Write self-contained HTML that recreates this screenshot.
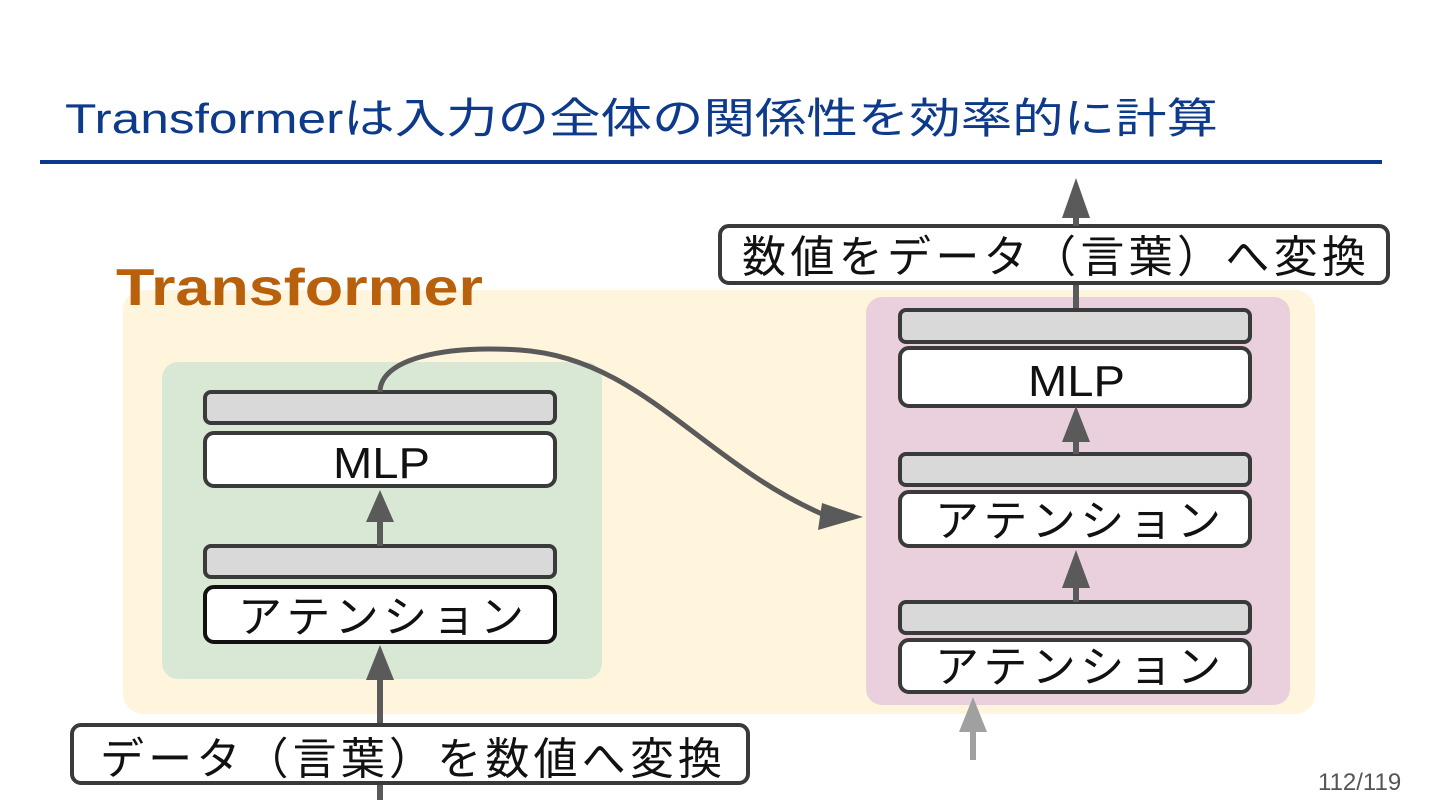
<!DOCTYPE html>
<html><head><meta charset="utf-8"><style>
body{margin:0;background:#fff;}
svg{display:block;}
text{font-family:"Liberation Sans","Noto Sans CJK JP",sans-serif;}
</style></head><body>
<svg width="1440" height="810" viewBox="0 0 1440 810" xmlns="http://www.w3.org/2000/svg">
<text x="65" y="133" font-size="42" fill="#0d3a8a" textLength="1153" lengthAdjust="spacingAndGlyphs">Transformerは入力の全体の関係性を効率的に計算</text>
<rect x="40" y="160" width="1342" height="4" fill="#0b3a8c"/>
<rect x="123" y="290" width="1192" height="424" rx="20" fill="#fff5dc"/>
<text x="116" y="305" font-size="52" font-weight="bold" fill="#b8600b" textLength="367" lengthAdjust="spacingAndGlyphs">Transformer</text>
<rect x="162" y="362" width="440" height="317" rx="16" fill="#d9e8d4"/>
<rect x="866" y="297" width="424" height="408" rx="16" fill="#e9d0dc"/>
<g fill="#5a5a5a" stroke="none">
<rect x="377" y="670" width="6" height="130"/>
<rect x="1073" y="283" width="6" height="27"/>
</g>
<g stroke="#3a3a3a" stroke-width="4">
<rect x="205" y="392" width="350" height="31" rx="6" fill="#d9d9d9"/>
<rect x="205" y="433" width="350" height="53" rx="9" fill="#fff"/>
<rect x="205" y="546" width="350" height="31" rx="6" fill="#d9d9d9"/>
<rect x="205" y="587" width="350" height="55" rx="9" fill="#fff" stroke="#111"/>
<rect x="72" y="725" width="676" height="58" rx="9" fill="#fff"/>
<rect x="900" y="310" width="350" height="32" rx="6" fill="#d9d9d9"/>
<rect x="900" y="348" width="350" height="58" rx="9" fill="#fff"/>
<rect x="900" y="454" width="350" height="31" rx="6" fill="#d9d9d9"/>
<rect x="900" y="492" width="350" height="54" rx="9" fill="#fff"/>
<rect x="900" y="602" width="350" height="31" rx="6" fill="#d9d9d9"/>
<rect x="900" y="640" width="350" height="52" rx="9" fill="#fff"/>
<rect x="720" y="226" width="668" height="57" rx="9" fill="#fff"/>
</g>
<g font-size="44" fill="#111">
<text x="333" y="478" textLength="97" lengthAdjust="spacingAndGlyphs">MLP</text>
<text x="238" y="632" textLength="286" lengthAdjust="spacing">アテンション</text>
<text x="100" y="774" textLength="622" lengthAdjust="spacing">データ（言葉）を数値へ変換</text>
<text x="1028" y="396" textLength="97" lengthAdjust="spacingAndGlyphs">MLP</text>
<text x="935" y="536" textLength="286" lengthAdjust="spacing">アテンション</text>
<text x="935" y="682" textLength="286" lengthAdjust="spacing">アテンション</text>
<text x="742" y="272" textLength="624" lengthAdjust="spacing">数値をデータ（言葉）へ変換</text>
</g>
<g fill="#5a5a5a" stroke="none">
<rect x="377" y="510" width="6" height="36"/><polygon points="380,490 366,522 394,522"/>
<polygon points="380,645 366,680 394,680"/>
<rect x="1073" y="430" width="6" height="24"/><polygon points="1076,406 1062,442 1090,442"/>
<rect x="1073" y="580" width="6" height="22"/><polygon points="1076,550 1062,588 1090,588"/>
<rect x="1073" y="205" width="6" height="21"/><polygon points="1076,178 1062,218 1090,218"/>
<polygon points="863,517 822,503 818,530"/>
</g>
<rect x="970" y="725" width="6" height="35" fill="#a0a0a0"/><polygon points="973,697 959,732 987,732" fill="#a0a0a0"/>
<path d="M380 392 C380 360, 440 345, 520 350 C640 358, 700 460, 822 514" fill="none" stroke="#5a5a5a" stroke-width="5"/>
<text x="1318" y="790" font-size="24" fill="#555">112/119</text>
</svg>
</body></html>
